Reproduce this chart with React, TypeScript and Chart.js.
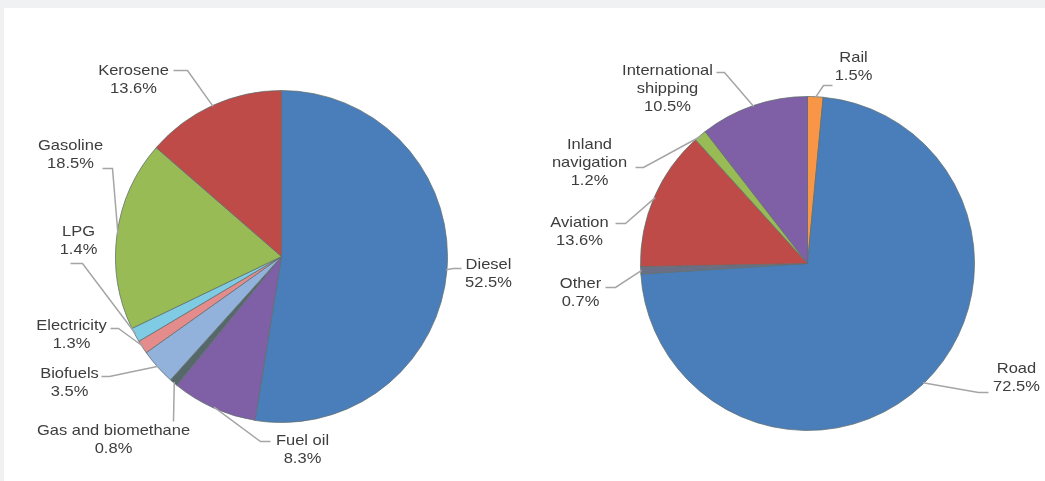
import React, { useEffect, useRef } from "react";
import { Chart, registerables } from "chart.js";

Chart.register(...registerables);

// ---- data ----
const fuelLabels: (string | string[])[] = [
  "Diesel",
  "Fuel oil",
  "Gas and biomethane",
  "Biofuels",
  "Electricity",
  "LPG",
  "Gasoline",
  "Kerosene",
];
const fuelShares = [52.5, 8.3, 0.8, 3.5, 1.3, 1.4, 18.5, 13.6];
const fuelColors = ["#4a7ebb", "#7f5fa6", "#56686a", "#92b2dc", "#e38c8b", "#7fcbe4", "#98bb55", "#be4b48"];

const modeLabels: (string | string[])[] = [
  "Rail",
  "Road",
  "Other",
  "Aviation",
  ["Inland", "navigation"],
  ["International", "shipping"],
];
const modeShares = [1.5, 72.5, 0.7, 13.6, 1.2, 10.5];
const modeColors = ["#f79646", "#4a7ebb", "#6b6f86", "#be4b48", "#98bb55", "#7f5fa6"];

// ---- label layout (offsets relative to pie centre, px) ----
type LabelLayout = { tx: number; ty: number; ax: number; ay: number; ex: number };
const fuelLayout: LabelLayout[] = [
  { tx: 207, ty: 8, ax: 180, ay: 12, ex: -8 },
  { tx: 21, ty: 184, ax: -11, ay: 185, ex: -10 },
  { tx: -168, ty: 174, ax: -108, ay: 165, ex: 0 },
  { tx: -212, ty: 117, ax: -180, ay: 120, ex: 8 },
  { tx: -210, ty: 69, ax: -171, ay: 72, ex: 8 },
  { tx: -203, ty: -25, ax: -211, ay: 7, ex: 12 },
  { tx: -211, ty: -111, ax: -179, ay: -88, ex: 10 },
  { tx: -148, ty: -186, ax: -108, ay: -186, ex: 14 },
];
const modeLayout: LabelLayout[] = [
  { tx: 46, ty: -206, ax: 25, ay: -178, ex: -9 },
  { tx: 209, ty: 105, ax: 181, ay: 129, ex: -10 },
  { tx: -227, ty: 20, ax: -202, ay: 24, ex: 10 },
  { tx: -228, ty: -41, ax: -192, ay: -40, ex: 10 },
  { tx: -218, ty: -119, ax: -172, ay: -96, ex: 8 },
  { tx: -140, ty: -193, ax: -91, ay: -191, ex: 8 },
];

const FONT = '15px "Liberation Sans", Arial, sans-serif';
const LINE_H = 18;
const X_STRETCH = 1.1;

function makeLabelPlugin(labels: (string | string[])[], layout: LabelLayout[]) {
  return {
    id: "pieLabels",
    afterDraw(chart: any) {
      const ctx: CanvasRenderingContext2D = chart.ctx;
      const meta = chart.getDatasetMeta(0);
      const values = chart.data.datasets[0].data as number[];
      meta.data.forEach((arc: any, i: number) => {
        const L = layout[i];
        if (!L) return;
        const { x, y, startAngle, endAngle, outerRadius } = arc.getProps(
          ["x", "y", "startAngle", "endAngle", "outerRadius"],
          true
        );
        const mid = (startAngle + endAngle) / 2;
        const px = x + Math.cos(mid) * (outerRadius - 1);
        const py = y + Math.sin(mid) * (outerRadius - 1);
        const axp = x + L.ax;
        const ayp = y + L.ay;
        // leader line
        ctx.save();
        ctx.strokeStyle = "#a5a5a5";
        ctx.lineWidth = 1.5;
        ctx.beginPath();
        ctx.moveTo(axp, ayp);
        ctx.lineTo(axp + L.ex, ayp);
        ctx.lineTo(px, py);
        ctx.stroke();
        ctx.restore();
        // text
        const name = labels[i];
        const lines = (Array.isArray(name) ? name : [name]).concat([values[i].toFixed(1) + "%"]);
        ctx.save();
        ctx.font = FONT;
        ctx.fillStyle = "#3d3d3d";
        ctx.textAlign = "center";
        ctx.textBaseline = "middle";
        ctx.translate(x + L.tx, y + L.ty);
        ctx.scale(X_STRETCH, 1);
        lines.forEach((ln, k) => ctx.fillText(ln, 0, k * LINE_H));
        ctx.restore();
      });
    },
  };
}

function PieCanvas(props: {
  labels: (string | string[])[];
  values: number[];
  colors: string[];
  layout: LabelLayout[];
  width: number;
  height: number;
  padding: { left: number; right: number; top: number; bottom: number };
}) {
  const ref = useRef<HTMLCanvasElement | null>(null);
  useEffect(() => {
    if (!ref.current) return;
    const chart = new Chart(ref.current, {
      type: "pie",
      data: {
        labels: props.labels.map((l) => (Array.isArray(l) ? l.join(" ") : l)),
        datasets: [
          {
            data: props.values,
            backgroundColor: props.colors,
            borderColor: "rgba(95,110,110,0.75)",
            borderWidth: 1,
          },
        ],
      },
      options: {
        responsive: false,
        animation: false,
        layout: { padding: props.padding },
        plugins: {
          legend: { display: false },
          tooltip: { enabled: false },
        },
      },
      plugins: [makeLabelPlugin(props.labels, props.layout)],
    });
    return () => chart.destroy();
  }, []);
  return <canvas ref={ref} width={props.width} height={props.height} style={{ display: "block" }} />;
}

export default function App() {
  return (
    <div
      style={{
        position: "fixed",
        left: 0,
        top: 0,
        width: 1045,
        height: 481,
        background: "#f0f1f3",
      }}
    >
      <div
        style={{
          position: "absolute",
          left: 4,
          top: 8,
          width: 1041,
          height: 473,
          background: "#ffffff",
        }}
      >
        <div style={{ position: "absolute", left: 0, top: 0 }}>
          <PieCanvas
            labels={fuelLabels}
            values={fuelShares}
            colors={fuelColors}
            layout={fuelLayout}
            width={520}
            height={473}
            padding={{ left: 111, right: 76, top: 82, bottom: 58 }}
          />
        </div>
        <div style={{ position: "absolute", left: 520, top: 0 }}>
          <PieCanvas
            labels={modeLabels}
            values={modeShares}
            colors={modeColors}
            layout={modeLayout}
            width={521}
            height={473}
            padding={{ left: 116, right: 70, top: 88, bottom: 50 }}
          />
        </div>
      </div>
    </div>
  );
}
